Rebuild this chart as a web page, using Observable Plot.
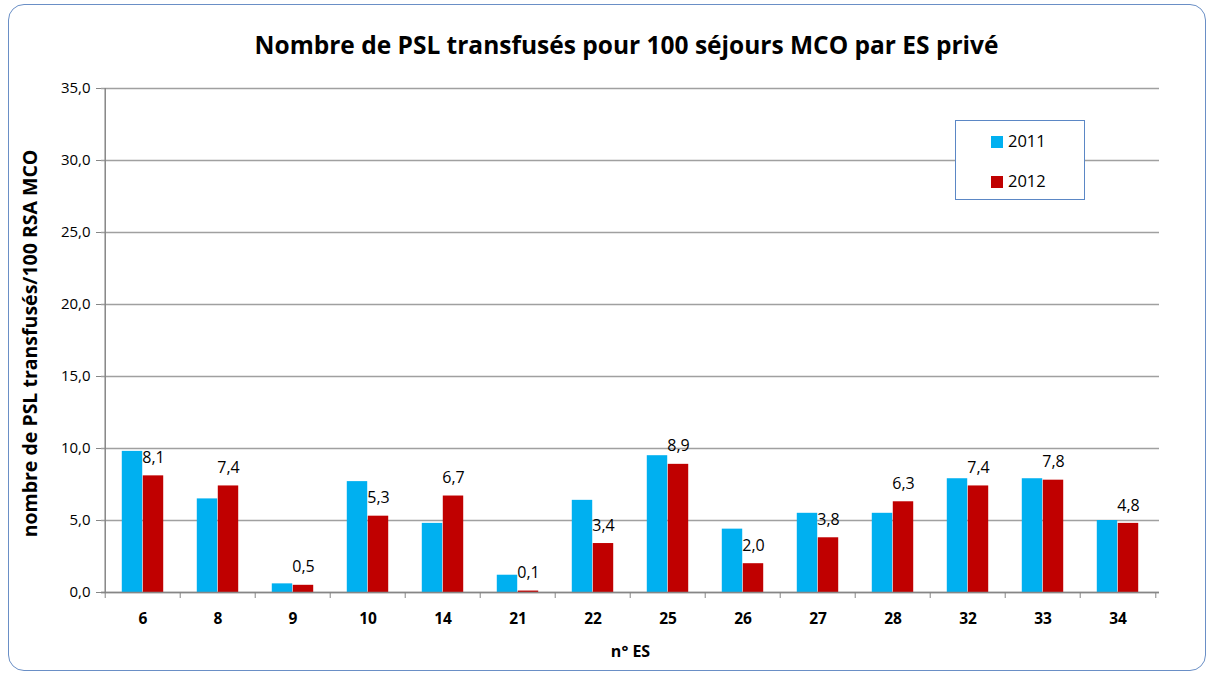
<!DOCTYPE html>
<html>
<head>
<meta charset="utf-8">
<script src="https://cdn.jsdelivr.net/npm/d3@7"></script>
<script src="https://cdn.jsdelivr.net/npm/@observablehq/plot@0.6"></script>
<style>
  html, body { margin: 0; padding: 0; background: #fff; }
  #wrap { position: relative; width: 1209px; height: 674px; overflow: hidden; font-family: "Open Sans", sans-serif; }
  #border { position: absolute; left: 8px; top: 4px; width: 1198px; height: 667px; border: 1px solid #6a8fc6; border-radius: 16px; box-sizing: border-box; }
  #title { position: absolute; left: 0; width: 1253px; top: 28px; text-align: center; font-weight: 700; font-size: 24.5px; color: #000; line-height: 34px; white-space: nowrap; }
  #legend { position: absolute; left: 955px; top: 120px; width: 130px; height: 80px; border: 1px solid #5b87c5; box-sizing: border-box; background: #fff; }
  .item { position: absolute; left: 35px; font-size: 16.5px; line-height: 20px; color: #000; white-space: nowrap; }
  .sw { display: inline-block; width: 12px; height: 12px; margin-right: 5px; vertical-align: -1px; }
  #chart { position: absolute; left: 0; top: 0; }
</style>
</head>
<body>
<div id="wrap">
  <div id="chart"></div>
  <div id="border"></div>
  <div id="title">Nombre de PSL transfusés pour 100 séjours MCO par ES privé</div>
  <div id="legend"></div>
</div>
<script>
const ES = ["6", "8", "9", "10", "14", "21", "22", "25", "26", "27", "28", "32", "33", "34"];
const v2011 = [9.8, 6.5, 0.6, 7.7, 4.8, 1.2, 6.4, 9.5, 4.4, 5.5, 5.5, 7.9, 7.9, 5.0];
const v2012 = [8.1, 7.4, 0.5, 5.3, 6.7, 0.1, 3.4, 8.9, 2.0, 3.8, 6.3, 7.4, 7.8, 4.8];
const years = ["2011", "2012"];
const colors = ["#00b0f0", "#c00000"];
const yTicks = [0, 5, 10, 15, 20, 25, 30, 35];
const yTitle = "nombre de PSL transfusés/100 RSA MCO";
const xTitle = "n° ES";

const W = 1209, H = 674;
const mL = 101, mR = 50, mT = 88, mB = 82;
const bw = (W - mL - mR) / ES.length;
const barW = 21;

const d11 = ES.map((e, i) => ({es: e, v: v2011[i]}));
const d12 = ES.map((e, i) => ({es: e, v: v2012[i]}));
const fmt = d => d.toFixed(1).replace(".", ",");
const pxPerUnit = (H - mT - mB) / 35;

const chart = Plot.plot({
  width: W, height: H,
  marginLeft: mL, marginRight: mR, marginTop: mT, marginBottom: mB,
  style: {fontFamily: "'Open Sans', sans-serif", background: "transparent", overflow: "visible"},
  x: {domain: ES, padding: 0, axis: null},
  y: {domain: [0, 35], axis: null},
  marks: [
    Plot.gridY(yTicks, {stroke: "#a0a0a0", strokeOpacity: 1, strokeWidth: 1.3}),
    Plot.barY(d11, {x: "es", y: "v", fill: colors[0], insetLeft: bw / 2 - barW, insetRight: bw / 2}),
    Plot.barY(d12, {x: "es", y: "v", fill: colors[1], insetLeft: bw / 2, insetRight: bw / 2 - barW}),
    Plot.text(d12, {x: "es", y: "v", text: d => fmt(d.v), dx: barW / 2, dy: -18, fontSize: 16, fill: "#000"}),
    // axis lines
    Plot.ruleY([0], {stroke: "#868686", strokeWidth: 1.5}),
    Plot.ruleX([ES[0]], {x: d => d, y1: 0, y2: 35, dx: -bw / 2, stroke: "#868686", strokeWidth: 1.5}),
    // category boundary ticks
    Plot.ruleX(ES, {x: d => d, y1: 0, y2: -6 / pxPerUnit, dx: -bw / 2, stroke: "#868686", strokeWidth: 1}),
    Plot.ruleX([ES[ES.length - 1]], {x: d => d, y1: 0, y2: -6 / pxPerUnit, dx: bw / 2, stroke: "#868686", strokeWidth: 1}),
    Plot.axisY({ticks: yTicks, tickFormat: fmt, tickSize: 5, tickPadding: 6, stroke: "#868686", fontSize: 15, fill: "#000", label: null}),
    Plot.axisX({tickSize: 0, tickPadding: 20, fontSize: 15.5, fontWeight: "bold", fill: "#000", label: null}),
    Plot.text([xTitle], {frameAnchor: "bottom", dy: 64, fontSize: 16, fontWeight: "bold", fill: "#000"}),
    Plot.text([yTitle], {frameAnchor: "left", textAnchor: "middle", dx: -71, dy: 3, rotate: -90, fontSize: 19.5, fontWeight: "bold", fill: "#000"})
  ]
});
document.getElementById("chart").appendChild(chart);

const legend = document.getElementById("legend");
years.forEach((y, i) => {
  const it = document.createElement("div");
  it.className = "item";
  it.style.top = (10 + i * 40) + "px";
  it.innerHTML = `<span class="sw" style="background:${colors[i]}"></span>${y}`;
  legend.appendChild(it);
});
</script>
</body>
</html>
